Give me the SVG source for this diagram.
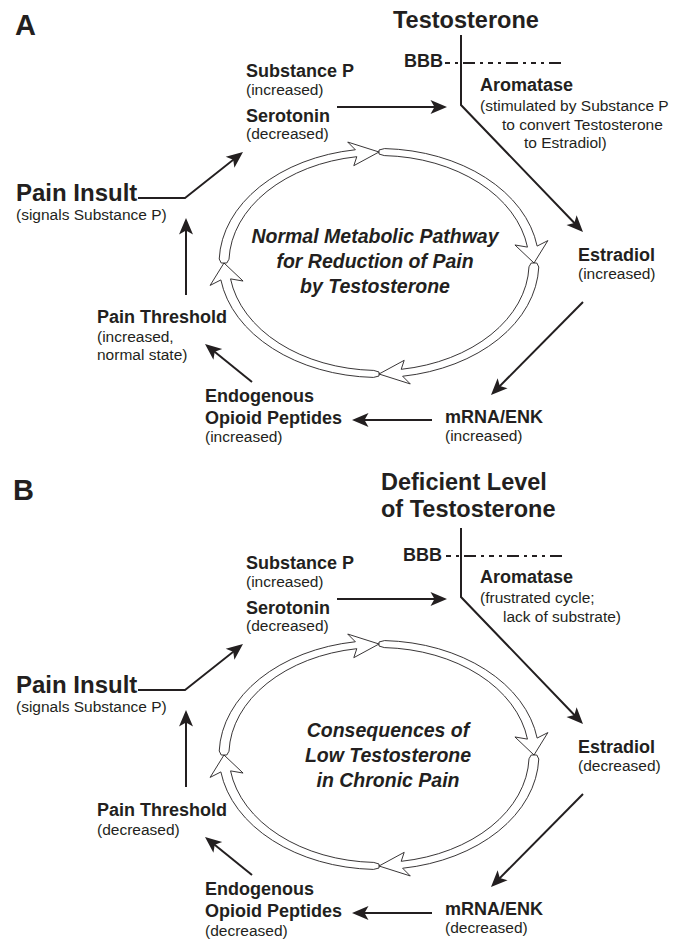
<svg xmlns="http://www.w3.org/2000/svg" xmlns:xlink="http://www.w3.org/1999/xlink" width="684" height="941" viewBox="0 0 684 941">
<style>
text{fill:#231f20;font-family:"Liberation Sans",Arial,Helvetica,sans-serif}
.b{font-weight:bold;font-size:18px}
.r{font-size:15.5px}
.big{font-weight:bold;font-size:23.5px}
.pi{font-weight:bold;font-size:24px}
.pl{font-weight:bold;font-size:29px}
.c{font-weight:bold;font-style:italic;font-size:19.5px;text-anchor:middle}
.ln{fill:none;stroke:#231f20;stroke-width:2}
.ar{marker-end:url(#ah)}
.seg{fill:#fff;stroke:#231f20;stroke-width:0.9}
</style>
<defs>
<marker id="ah" markerUnits="userSpaceOnUse" markerWidth="30" markerHeight="20" viewBox="-10 -10 30 20" refX="0" refY="0" orient="auto" overflow="visible">
<path d="M10,0 L-6.5,-7 L-2.5,0 L-6.5,7 Z" fill="#231f20"/>
</marker>
<path id="seg" class="seg" vector-effect="non-scaling-stroke" d="M0,-113 L3.996,-114.43 A114.5,114.5 0 0 1 113.24,-16.92 L120.94,-22.41 L111,0 L97.34,-18.04 L106.32,-15.89 A107.5,107.5 0 0 0 3.752,-107.43 L0,-109 Z"/>
<g id="ring">
<g transform="translate(379,263) scale(1.3964,1)">
<use xlink:href="#seg" href="#seg"/>
<use xlink:href="#seg" href="#seg" transform="rotate(90)"/>
<use xlink:href="#seg" href="#seg" transform="rotate(180)"/>
<use xlink:href="#seg" href="#seg" transform="rotate(270)"/>
</g>
</g>
</defs>
<rect width="684" height="941" fill="#fff"/>

<!-- Panel A -->
<g id="panelA">
<g id="A-cycle"><use xlink:href="#ring" href="#ring"/></g>
<g id="A-connectors">
<path class="ln" d="M445,63 H566" style="stroke-dasharray:5 5 3 5 12 5 3 5"/>
<path class="ln ar" d="M461,35 V105 L576.07,224.79"/>
<path class="ln ar" d="M337,107 H437"/>
<path class="ln ar" d="M583,302 L498.03,387.89"/>
<path class="ln ar" d="M432,420 H362"/>
<path class="ln ar" d="M252,382 L212.78,350.29"/>
<path class="ln ar" d="M186,295 V228"/>
<path class="ln ar" d="M138,198 H185 L235.16,158.22" style="stroke-width:1.8"/>
</g>
<g id="A-label"><text class="pl" x="15" y="35">A</text></g>
<g id="A-testosterone"><text class="big" x="393" y="28">Testosterone</text></g>
<g id="A-bbb"><text class="b" x="404" y="67">BBB</text></g>
<g id="A-aromatase">
<text class="b" x="480" y="91">Aromatase</text>
<text class="r" x="480" y="111">(stimulated by Substance P</text>
<text class="r" x="502" y="130">to convert Testosterone</text>
<text class="r" x="524" y="148">to Estradiol)</text>
</g>
<g id="A-substance">
<text class="b" x="246" y="77">Substance P</text>
<text class="r" x="246" y="95">(increased)</text>
<text class="b" x="246" y="122">Serotonin</text>
<text class="r" x="246" y="139">(decreased)</text>
</g>
<g id="A-estradiol">
<text class="b" x="578" y="261">Estradiol</text>
<text class="r" x="578" y="279">(increased)</text>
</g>
<g id="A-mrna">
<text class="b" x="445" y="423">mRNA/ENK</text>
<text class="r" x="445" y="441">(increased)</text>
</g>
<g id="A-opioid">
<text class="b" x="205" y="402">Endogenous</text>
<text class="b" x="205" y="424">Opioid Peptides</text>
<text class="r" x="205" y="442">(increased)</text>
</g>
<g id="A-threshold">
<text class="b" x="97" y="323">Pain Threshold</text>
<text class="r" x="97" y="342">(increased,</text>
<text class="r" x="97" y="360">normal state)</text>
</g>
<g id="A-insult">
<text class="pi" x="16" y="201">Pain Insult</text>
<text class="r" x="16" y="220">(signals Substance P)</text>
</g>
<g id="A-center">
<text class="c" x="375" y="243">Normal Metabolic Pathway</text>
<text class="c" x="375" y="268">for Reduction of Pain</text>
<text class="c" x="375" y="293">by Testosterone</text>
</g>
</g>

<!-- Panel B -->
<g id="panelB" transform="translate(0,492)">
<g id="B-cycle"><use xlink:href="#ring" href="#ring"/></g>
<g id="B-connectors">
<path class="ln" d="M446,64 H566" style="stroke-dasharray:5 5 3 5 12 5 3 5"/>
<path class="ln ar" d="M461,36 V105 L576.07,224.79"/>
<path class="ln ar" d="M337,107 H437"/>
<path class="ln ar" d="M583,302 L498.03,387.89"/>
<path class="ln ar" d="M432,421 H362"/>
<path class="ln ar" d="M252,383 L212.78,351.29"/>
<path class="ln ar" d="M186,295 V228"/>
<path class="ln ar" d="M138,198 H185 L235.16,158.22" style="stroke-width:1.8"/>
</g>
<g id="B-label"><text class="pl" x="13" y="8">B</text></g>
<g id="B-testosterone">
<text class="big" x="381" y="-2">Deficient Level</text>
<text class="big" x="381" y="25">of Testosterone</text>
</g>
<g id="B-bbb"><text class="b" x="403" y="69">BBB</text></g>
<g id="B-aromatase">
<text class="b" x="480" y="91">Aromatase</text>
<text class="r" x="480" y="111">(frustrated cycle;</text>
<text class="r" x="503" y="130">lack of substrate)</text>
</g>
<g id="B-substance">
<text class="b" x="246" y="77">Substance P</text>
<text class="r" x="246" y="95">(increased)</text>
<text class="b" x="246" y="122">Serotonin</text>
<text class="r" x="246" y="139">(decreased)</text>
</g>
<g id="B-estradiol">
<text class="b" x="578" y="261">Estradiol</text>
<text class="r" x="578" y="279">(decreased)</text>
</g>
<g id="B-mrna">
<text class="b" x="445" y="423">mRNA/ENK</text>
<text class="r" x="445" y="441">(decreased)</text>
</g>
<g id="B-opioid">
<text class="b" x="205" y="403">Endogenous</text>
<text class="b" x="205" y="425">Opioid Peptides</text>
<text class="r" x="205" y="444">(decreased)</text>
</g>
<g id="B-threshold">
<text class="b" x="97" y="324">Pain Threshold</text>
<text class="r" x="97" y="343">(decreased)</text>
</g>
<g id="B-insult">
<text class="pi" x="16" y="201">Pain Insult</text>
<text class="r" x="16" y="220">(signals Substance P)</text>
</g>
<g id="B-center">
<text class="c" x="388" y="245">Consequences of</text>
<text class="c" x="388" y="270">Low Testosterone</text>
<text class="c" x="388" y="295">in Chronic Pain</text>
</g>
</g>
</svg>
